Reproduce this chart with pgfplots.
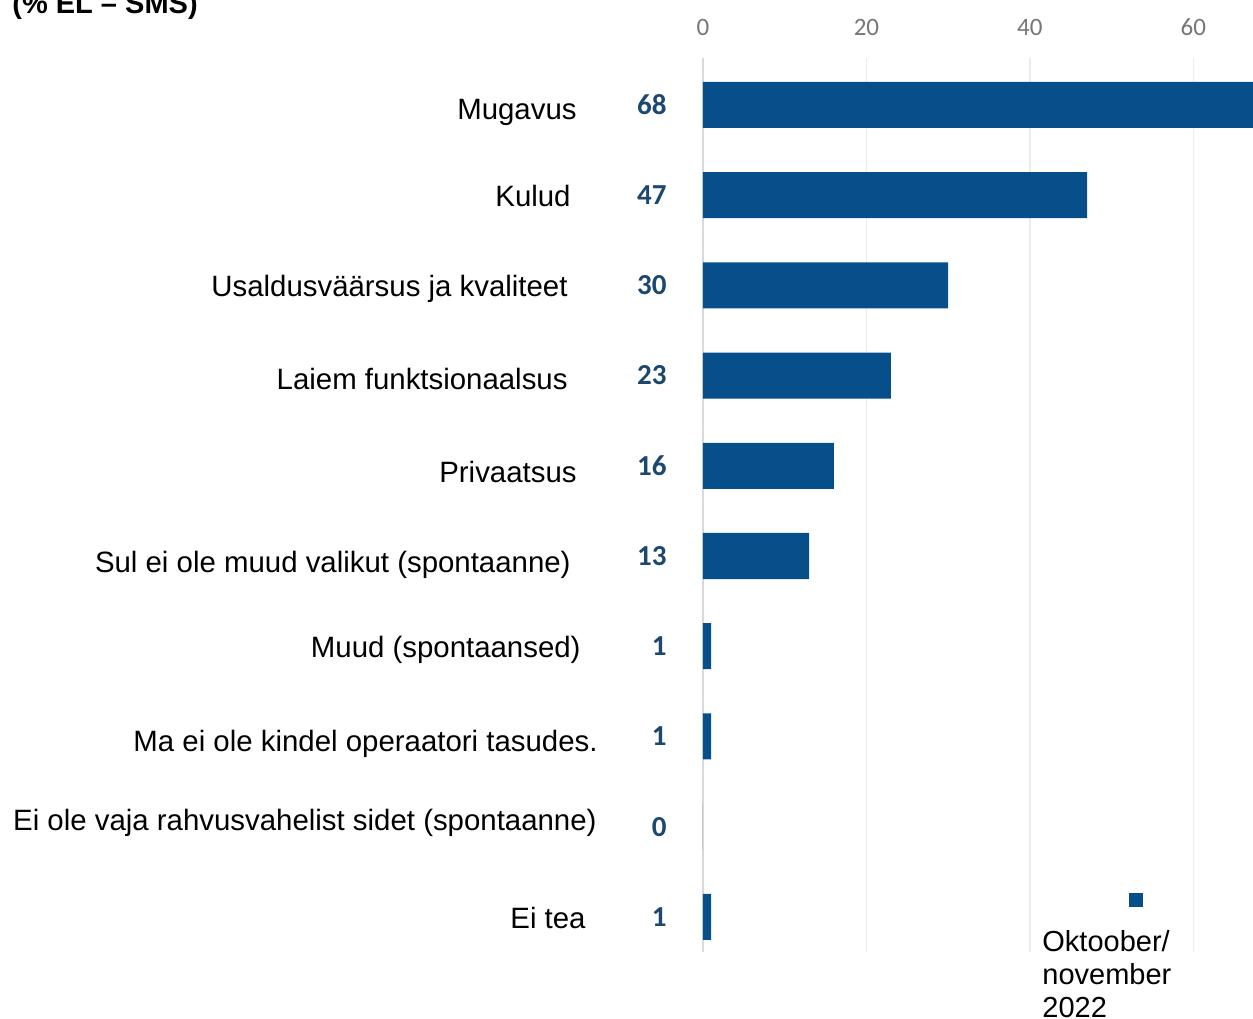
\documentclass[border=0pt]{standalone}
\usepackage{pgfplots}
\pgfplotsset{compat=1.18}
\usepackage{fontspec}
\setmainfont{Liberation Sans}
\newfontfamily\carlito{Carlito}
\definecolor{barblue}{RGB}{6,79,138}
\definecolor{valblue}{RGB}{28,72,112}
\definecolor{tickgray}{RGB}{118,118,118}
\definecolor{gridgray}{RGB}{236,236,236}
\newcommand{\lab}{\fontsize{14.7pt}{17pt}\selectfont}
\newcommand{\rl}[2]{\raisebox{#1}{#2}}
\begin{document}
\begin{tikzpicture}
% 1 px of the reference = 0.5pt
\path[use as bounding box] (0,0) rectangle (626.5pt,-509pt);
\node[anchor=base west, font=\fontsize{14.5pt}{17pt}\selectfont\bfseries, inner sep=0pt] at (6pt,-6.5pt) {(\% EL – SMS)};
\begin{axis}[
    at={(351.5pt,-29pt)}, anchor=north west,
    scale only axis,
    width=275pt, height=447pt,
    xmin=0, xmax=67.3,
    ymin=-0.52, ymax=9.39,
    y dir=reverse,
    clip=false,
    axis line style={draw=none},
    major tick length=0pt,
    xtick={0,20,40,60},
    xticklabel pos=right,
    xmajorgrids,
    grid style={gridgray, line width=0.7pt},
    xticklabel style={anchor=center, yshift=15.5pt, inner sep=0pt,
        font=\carlito\fontsize{12.5pt}{14pt}\selectfont, text=tickgray},
    /pgf/number format/assume math mode=true,
    ytick={0,...,9},
    yticklabels={
        \rl{-2pt}{Mugavus}\hspace*{10.5pt},
        Kulud\hspace*{13.5pt},
        Usaldusväärsus ja kvaliteet\hspace*{15pt},
        \rl{-1.5pt}{Laiem funktsionaalsus}\hspace*{15pt},
        \rl{-3pt}{Privaatsus}\hspace*{10.5pt},
        \rl{-3pt}{Sul ei ole muud valikut (spontaanne)}\hspace*{13.5pt},
        Muud (spontaansed)\hspace*{8.5pt},
        \rl{-2pt}{Ma ei ole kindel operaatori tasudes.},
        \rl{3.5pt}{Ei ole vaja rahvusvahelist sidet (spontaanne)}\hspace*{0.5pt},
        \rl{-0.5pt}{Ei tea}\hspace*{6pt}},
    yticklabel style={anchor=base east, inner sep=0pt, xshift=-52.5pt, yshift=-5.5pt, font=\lab},
]
\draw[gray!30, line width=0.8pt] (axis cs:0,-0.52) -- (axis cs:0,9.39);
\addplot[xbar, bar width=0.51, fill=barblue, draw=none] coordinates {
    (68,0) (47,1) (30,2) (23,3) (16,4) (13,5) (1,6) (1,7) (0,8) (1,9)};
\addplot[draw=none, nodes near coords, point meta=explicit symbolic,
    every node near coord/.append style={anchor=east, xshift=-18pt, inner sep=0pt,
        font=\carlito\bfseries\fontsize{14.5pt}{16pt}\selectfont, text=valblue}]
    coordinates {
    (0,0) [68] (0,1) [47] (0,2) [30] (0,3) [23] (0,4) [16]
    (0,5) [13] (0,6) [1] (0,7) [1] (0,8) [0] (0,9) [1]};
\end{axis}
\fill[barblue] (564.5pt,-446.5pt) rectangle (571.5pt,-453.5pt);
\node[anchor=base west, inner sep=0pt, align=left, font=\fontsize{14.5pt}{16.5pt}\selectfont]
    at (521pt,-508.5pt) {Oktoober/\\november\\2022};
\end{tikzpicture}
\end{document}
